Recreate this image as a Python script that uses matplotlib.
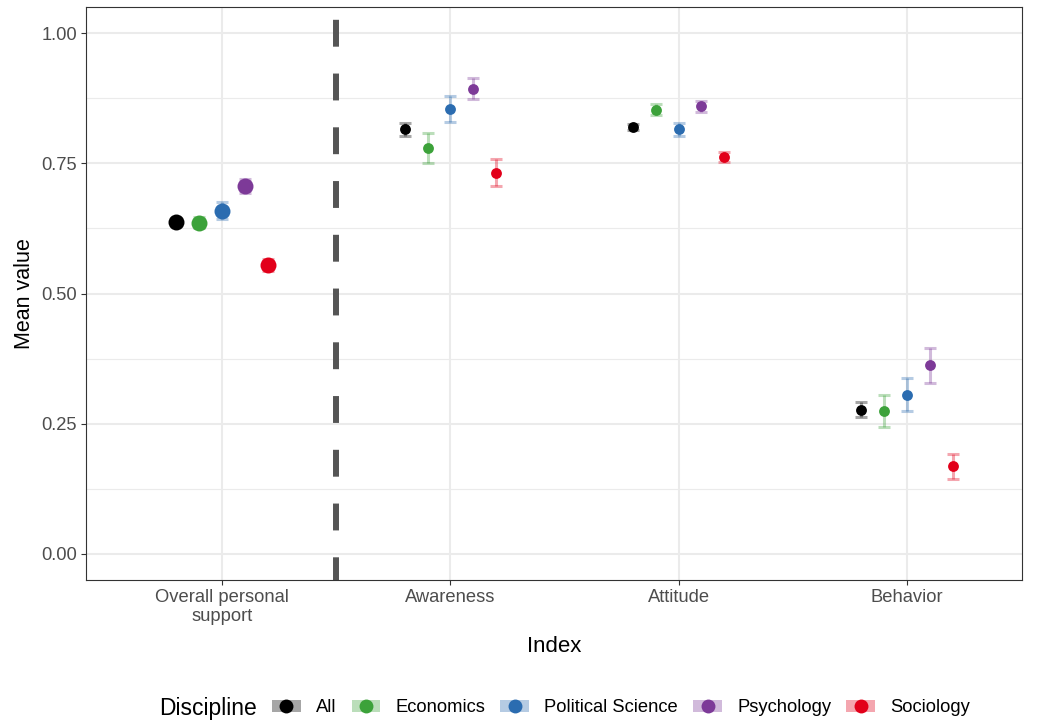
import matplotlib
matplotlib.use("Agg")
import matplotlib.pyplot as plt
from matplotlib.lines import Line2D
from matplotlib.patches import Patch
from matplotlib.legend_handler import HandlerTuple
import numpy as np

plt.rcParams['font.family'] = ['Liberation Sans', 'DejaVu Sans']

# index categories and disciplines
indices = ["Overall personal\nsupport", "Awareness", "Attitude", "Behavior"]
disciplines = ["All", "Economics", "Political Science", "Psychology", "Sociology"]
colors = ["#000000", "#3CA23A", "#2B6CB0", "#7D3A98", "#E2001A"]

# mean values per discipline (rows) for each index (columns)
means = [
    [0.638, 0.815, 0.820, 0.277],   # All
    [0.636, 0.780, 0.853, 0.275],   # Economics
    [0.659, 0.854, 0.815, 0.306],   # Political Science
    [0.706, 0.893, 0.859, 0.362],   # Psychology
    [0.555, 0.732, 0.762, 0.168],   # Sociology
]
# half-width of the confidence intervals
errs = [
    [0.000, 0.012, 0.006, 0.014],
    [0.011, 0.029, 0.010, 0.031],
    [0.016, 0.025, 0.013, 0.031],
    [0.013, 0.020, 0.010, 0.033],
    [0.012, 0.026, 0.010, 0.024],
]

fig = plt.figure(figsize=(10.39, 7.23), dpi=100)
ax = fig.add_axes([86 / 1039, 1 - 580 / 723, (1022 - 86) / 1039, (580 - 7) / 723])

x = np.arange(1, len(indices) + 1)
offsets = np.linspace(-0.2, 0.2, len(disciplines))

for i, (name, col) in enumerate(zip(disciplines, colors)):
    xs = x + offsets[i]
    ax.errorbar(xs, means[i], yerr=errs[i], fmt="none", ecolor=col, alpha=0.35,
                elinewidth=2.2, capsize=4.3, capthick=2.2, zorder=3)
    # overall index drawn with larger points
    ax.plot(xs[:1], means[i][:1], "o", color=col, markersize=11.5, zorder=4,
            markeredgewidth=0)
    ax.plot(xs[1:], means[i][1:], "o", color=col, markersize=7.8, zorder=4,
            markeredgewidth=0)

ax.axvline(1.5, color="#555555", linewidth=4.3, linestyle=(0.7, (4.5, 4.5)), zorder=2)

ax.set_xlim(0.404, 4.504)
ax.set_ylim(-0.05, 1.05)
ax.set_xticks(x)
ax.set_xticklabels(indices)
ax.set_yticks([0, 0.25, 0.5, 0.75, 1.0])
ax.set_yticklabels(["0.00", "0.25", "0.50", "0.75", "1.00"])
ax.set_yticks([0.125, 0.375, 0.625, 0.875], minor=True)

ax.grid(True, which="major", color="#EBEBEB", linewidth=1.5, zorder=0)
ax.grid(True, which="minor", axis="y", color="#EBEBEB", linewidth=0.8, zorder=0)
ax.set_axisbelow(True)
for s in ax.spines.values():
    s.set_color("#333333")
    s.set_linewidth(0.8)
ax.tick_params(which="major", length=3.3, color="#333333", width=0.8,
               labelsize=13.2, labelcolor="#4D4D4D", pad=3)
ax.tick_params(which="minor", length=0)

ax.set_xlabel("Index", fontsize=16, labelpad=8)
ax.set_ylabel("Mean value", fontsize=15.5, labelpad=5)

# legend along the bottom
handles = []
for col in colors:
    box = Patch(facecolor=col, alpha=0.35, edgecolor="none")
    dot = Line2D([], [], marker="o", color=col, linestyle="none", markersize=10,
                 markeredgewidth=0)
    handles.append((box, dot))
fig.text(159 / 1039, 1 - 709 / 723, "Discipline", fontsize=16.5, va="center", ha="left")
fig.legend(handles, disciplines, handler_map={tuple: HandlerTuple(ndivide=1, pad=0)},
           loc="center left", bbox_to_anchor=(272 / 1039, 1 - 708 / 723), ncol=5,
           frameon=False, fontsize=13.2, handlelength=1.58, handleheight=0.66,
           columnspacing=0.82, handletextpad=0.82, borderaxespad=0, borderpad=0)

fig.savefig("out.png", dpi=100)
